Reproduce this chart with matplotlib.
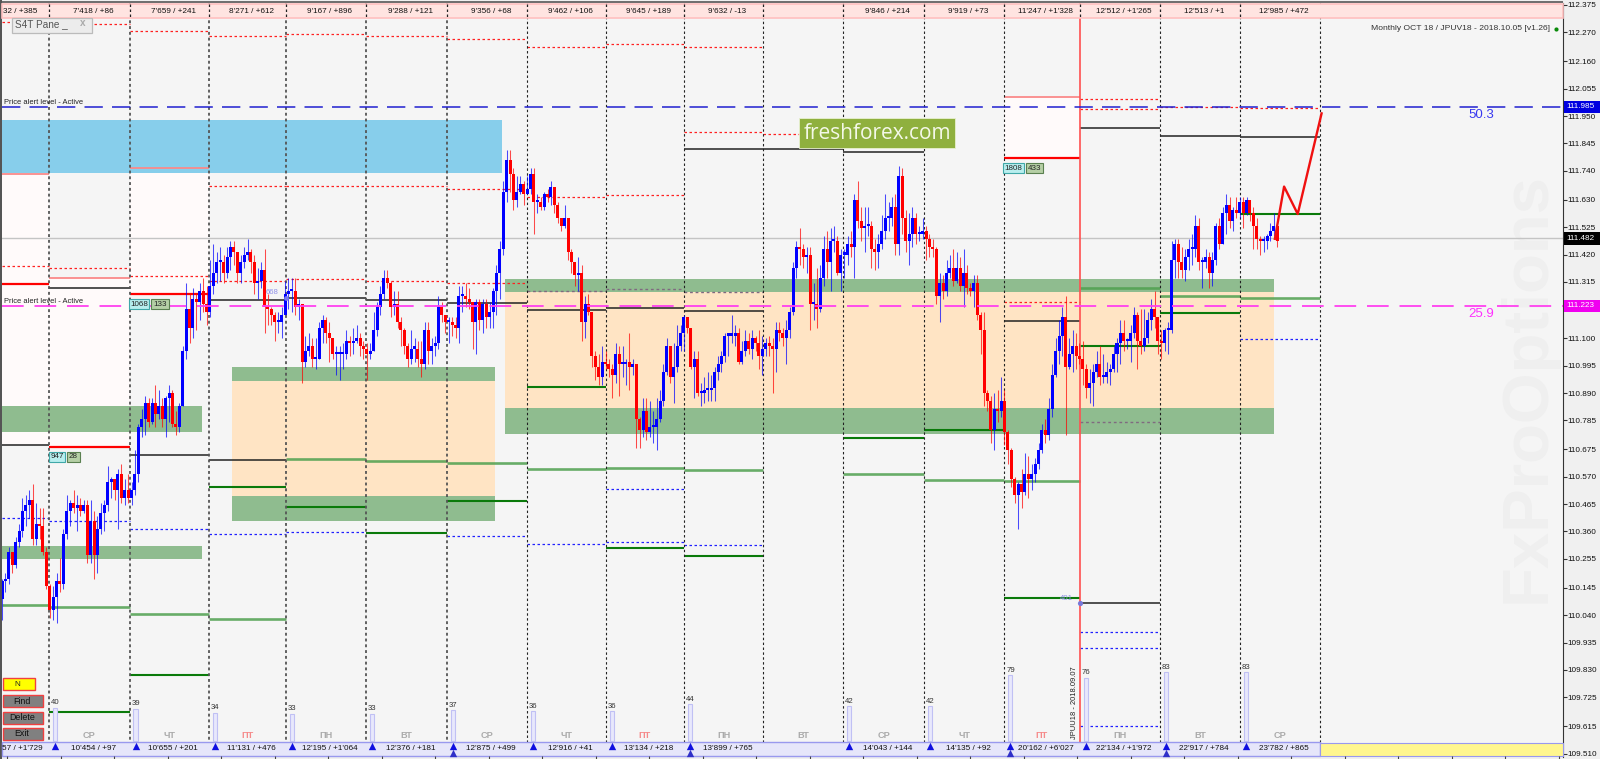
import numpy as np
import matplotlib
matplotlib.use("Agg")
import matplotlib.pyplot as plt
from matplotlib.patches import Rectangle

plt.rcParams['font.family'] = ['Liberation Sans', 'DejaVu Sans']

# --- 1. Hourly candles (open = previous close) ---
close_prices = [
    110.17,110.18,110.28,110.23,110.32,110.36,110.44,110.46,110.48,110.33,110.39,110.38,110.28,110.15,
    110.06,110.11,110.17,110.16,110.35,110.44,110.47,110.45,110.46,110.44,110.46,110.27,110.40,110.27,110.37,110.43,110.46,110.55,110.56,110.52,110.58,110.49,110.52,
    110.49,110.52,110.58,110.76,110.79,110.85,110.78,110.85,110.81,110.84,110.79,110.87,110.89,110.77,110.76,110.84,111.05,111.21,111.14,111.25,111.24,111.28,111.23,111.20,
    111.30,111.35,111.39,111.39,111.35,111.41,111.45,111.43,111.35,111.39,111.42,111.43,111.39,111.31,111.32,111.36,111.22,111.21,111.19,111.16,111.16,111.19,
    111.27,111.28,111.28,111.22,111.23,111.01,111.05,111.07,111.02,111.02,111.14,111.17,111.12,111.10,111.04,111.04,111.04,111.04,111.09,111.08,111.09,111.10,111.07,
    111.06,111.04,111.05,111.13,111.22,111.27,111.33,111.31,111.22,111.23,111.16,111.13,111.07,111.02,111.06,111.06,111.02,111.00,111.13,111.05,111.07,111.08,111.22,111.19,
    111.16,111.16,111.15,111.14,111.26,111.26,111.25,111.24,111.16,111.24,111.17,111.23,111.18,111.20,111.28,111.35,111.44,111.66,111.78,111.73,111.63,111.66,111.69,
    111.65,111.67,111.73,111.62,111.62,111.60,111.65,111.64,111.68,111.61,111.56,111.53,111.56,111.43,111.39,111.34,111.35,111.16,111.23,111.20,111.03,110.99,110.95,
    111.01,111.00,110.98,110.96,111.04,111.00,111.00,111.01,110.99,111.00,110.79,110.75,110.82,110.74,110.76,110.76,110.79,110.86,110.97,111.07,110.95,110.99,111.07,
    111.12,111.18,111.14,110.99,111.02,110.89,110.89,110.90,110.90,110.91,110.97,111.00,111.03,111.11,111.11,111.11,111.12,111.01,111.05,111.09,111.06,111.10,
    111.08,111.03,111.06,111.08,111.07,111.06,111.13,111.12,111.10,111.13,111.20,111.37,111.45,111.44,111.41,111.42,111.23,111.23,111.21,111.33,111.44,111.39,111.47,111.47,
    111.35,111.42,111.42,111.46,111.45,111.63,111.55,111.52,111.53,111.53,111.44,111.43,111.46,111.51,111.56,111.56,111.60,111.46,111.72,111.56,111.47,111.50,111.56,
    111.50,111.50,111.51,111.48,111.45,111.44,111.26,111.31,111.28,111.35,111.37,111.32,111.37,111.30,111.35,111.29,111.28,111.31,111.19,111.13,110.89,110.86,110.75,110.83,110.82,110.86,110.74,110.67,
    110.56,110.50,110.54,110.51,110.58,110.56,110.58,110.62,110.67,110.75,110.73,110.83,110.96,111.05,111.11,111.18,110.99,111.04,111.07,111.03,111.02,
    110.98,110.91,110.93,110.97,111.00,110.95,110.95,110.97,110.98,111.04,111.08,111.12,111.09,111.09,111.12,111.19,111.09,111.07,111.10,111.17,111.21,111.18,111.09,
    111.08,111.13,111.13,111.40,111.46,111.39,111.36,111.41,111.44,111.44,111.53,111.39,111.39,111.41,111.35,111.40,111.53,111.46,111.58,111.61,111.55,111.59,111.58,111.62,
    111.58,111.63,111.58,111.53,111.48,111.47,111.47,111.49,111.51,111.53,111.47,
]
high_prices = [
    110.18,110.20,110.30,110.28,110.34,110.39,110.49,110.50,110.52,110.54,110.47,110.45,110.45,110.30,
    110.16,110.15,110.20,110.26,110.37,110.50,110.48,110.52,110.50,110.49,110.48,110.48,110.48,110.44,110.42,110.47,110.48,110.61,110.57,110.56,110.60,110.62,110.56,
    110.58,110.55,110.67,110.77,110.83,110.88,110.87,110.87,110.92,110.90,110.87,110.88,110.92,110.90,110.82,110.85,111.07,111.31,111.27,111.29,111.27,111.31,111.33,111.30,
    111.40,111.46,111.43,111.45,111.42,111.45,111.47,111.47,111.43,111.42,111.45,111.48,111.44,111.42,111.37,111.39,111.44,111.27,111.22,111.20,111.20,111.22,
    111.32,111.33,111.33,111.33,111.25,111.22,111.11,111.12,111.10,111.10,111.16,111.19,111.18,111.16,111.10,111.07,111.07,111.08,111.13,111.11,111.14,111.15,111.12,
    111.09,111.08,111.08,111.20,111.24,111.30,111.36,111.36,111.32,111.28,111.28,111.18,111.14,111.08,111.13,111.10,111.09,111.09,111.16,111.16,111.10,111.11,111.26,111.24,
    111.19,111.18,111.18,111.18,111.30,111.30,111.31,111.29,111.24,111.25,111.25,111.25,111.25,111.24,111.29,111.38,111.47,111.70,111.82,111.82,111.75,111.72,111.72,
    111.70,111.72,111.75,111.75,111.65,111.64,111.66,111.67,111.70,111.68,111.62,111.56,111.61,111.56,111.44,111.39,111.41,111.38,111.26,111.27,111.20,111.05,111.04,
    111.07,111.05,111.02,111.00,111.08,111.07,111.07,111.02,111.12,111.02,111.00,110.80,110.87,110.87,110.86,110.82,110.87,110.90,111.00,111.10,111.07,111.08,111.15,
    111.15,111.19,111.18,111.14,111.05,111.05,110.93,110.95,110.97,110.96,110.99,111.03,111.05,111.12,111.12,111.19,111.15,111.14,111.09,111.13,111.12,111.13,
    111.11,111.13,111.11,111.10,111.11,111.10,111.16,111.16,111.14,111.17,111.22,111.39,111.47,111.52,111.46,111.45,111.45,111.31,111.37,111.38,111.49,111.51,111.52,111.53,
    111.49,111.44,111.44,111.49,111.51,111.65,111.70,111.60,111.60,111.60,111.55,111.48,111.50,111.57,111.65,111.62,111.64,111.65,111.76,111.75,111.59,111.58,111.60,
    111.58,111.53,111.56,111.53,111.50,111.48,111.45,111.35,111.34,111.40,111.42,111.44,111.43,111.41,111.44,111.38,111.31,111.34,111.34,111.20,111.20,110.90,110.88,110.89,110.90,110.95,110.90,110.75,
    110.68,110.57,110.55,110.60,110.66,110.65,110.62,110.64,110.70,110.77,110.79,110.87,111.00,111.10,111.17,111.22,111.26,111.10,111.13,111.12,111.08,
    111.09,111.00,110.98,111.00,111.05,111.07,111.04,111.01,111.00,111.07,111.10,111.17,111.17,111.10,111.15,111.22,111.20,111.21,111.21,111.20,111.25,111.28,111.18,
    111.13,111.14,111.16,111.47,111.48,111.48,111.45,111.44,111.48,111.50,111.57,111.56,111.41,111.44,111.43,111.43,111.54,111.56,111.60,111.65,111.64,111.60,111.64,111.64,
    111.64,111.64,111.63,111.60,111.56,111.49,111.49,111.50,111.54,111.58,111.53,
]
low_prices = [
    110.02,110.13,110.16,110.20,110.22,110.30,110.34,110.38,110.41,110.31,110.31,110.33,110.27,110.14,
    110.03,110.02,110.01,110.13,110.14,110.33,110.38,110.43,110.36,110.42,110.43,110.24,110.24,110.18,110.20,110.35,110.36,110.44,110.49,110.48,110.37,110.47,110.46,
    110.47,110.46,110.50,110.55,110.72,110.73,110.76,110.77,110.76,110.79,110.76,110.72,110.78,110.76,110.73,110.74,110.84,111.02,111.08,111.10,111.13,111.17,111.20,111.15,
    111.18,111.27,111.31,111.32,111.31,111.33,111.36,111.38,111.31,111.31,111.37,111.40,111.35,111.27,111.25,111.29,111.12,111.15,111.15,111.09,111.12,111.10,
    111.24,111.21,111.20,111.19,111.17,110.93,110.99,111.03,110.99,110.98,111.02,111.08,111.08,111.01,111.02,110.96,110.94,110.98,111.02,111.03,111.04,111.08,111.03,
    111.02,110.94,111.02,111.05,111.11,111.19,111.25,111.29,111.18,111.19,111.14,111.07,111.04,110.99,111.00,111.01,110.99,110.95,110.98,111.00,111.00,111.03,111.06,111.16,
    111.12,111.08,111.11,111.10,111.08,111.20,111.22,111.21,111.06,111.04,111.13,111.12,111.14,111.14,111.14,111.19,111.25,111.42,111.62,111.66,111.59,111.60,111.65,
    111.61,111.65,111.65,111.50,111.58,111.59,111.59,111.62,111.61,111.58,111.54,111.51,111.52,111.40,111.35,111.30,111.28,111.09,111.10,111.19,110.99,110.94,110.92,
    110.92,110.98,110.95,110.87,110.93,110.88,110.95,110.92,110.90,110.96,110.68,110.68,110.72,110.71,110.72,110.70,110.67,110.78,110.84,110.96,110.93,110.85,110.97,
    111.05,111.05,111.12,110.98,110.87,110.88,110.84,110.85,110.86,110.86,110.86,110.94,110.97,111.01,111.03,111.08,111.07,111.00,111.00,111.03,111.04,111.02,
    111.05,110.98,110.96,111.03,111.03,110.89,110.97,111.09,111.07,111.00,111.10,111.19,111.33,111.38,111.37,111.35,111.13,111.17,111.14,111.20,111.30,111.33,111.28,111.43,
    111.34,111.28,111.33,111.38,111.41,111.33,111.52,111.47,111.43,111.49,111.37,111.36,111.37,111.44,111.48,111.51,111.53,111.42,111.42,111.50,111.43,111.38,111.45,
    111.46,111.47,111.48,111.40,111.41,111.41,111.23,111.16,111.25,111.26,111.33,111.30,111.31,111.28,111.22,111.27,111.26,111.22,111.17,111.04,110.84,110.82,110.70,110.67,110.78,110.80,110.69,110.62,
    110.53,110.47,110.37,110.45,110.50,110.49,110.52,110.55,110.60,110.66,110.70,110.71,110.80,110.95,111.00,111.03,110.73,110.98,110.97,110.98,111.00,
    110.92,110.87,110.85,110.84,110.95,110.92,110.93,110.93,110.92,110.97,110.97,111.00,111.05,111.06,111.01,111.10,110.98,111.04,111.05,111.08,111.13,111.14,111.04,
    111.02,111.05,111.04,111.12,111.33,111.33,111.33,111.32,111.36,111.38,111.41,111.36,111.29,111.37,111.29,111.30,111.38,111.44,111.46,111.50,111.52,111.51,111.56,111.56,
    111.52,111.57,111.55,111.44,111.44,111.42,111.43,111.44,111.47,111.49,111.45,
]
first_open = 110.10

# bar number where each session starts (session 0 is cut off on the left)
session_edges = [0, 13.8, 37.4, 60.7, 83.3, 106.7, 130.5, 154, 177.1, 200, 223.2, 246.7, 270.4, 293.9, 316.1, 339.6, 363, 386.5]

top_labels = ["", "7'418 / +86", "7'659 / +241", "8'271 / +612", "9'167 / +896", "9'288 / +121", "9'356 / +68",
              "9'462 / +106", "9'645 / +189", "9'632 / -13", "", "9'846 / +214", "9'919 / +73", "11'247 / +1'328",
              "12'512 / +1'265", "12'513 / +1", "12'985 / +472"]
bottom_labels = ["", "10'454 / +97", "10'655 / +201", "11'131 / +476", "12'195 / +1'064", "12'376 / +181", "12'875 / +499",
                 "12'916 / +41", "13'134 / +218", "13'899 / +765", "", "14'043 / +144", "14'135 / +92", "20'162 / +6'027",
                 "22'134 / +1'972", "22'917 / +784", "23'782 / +865"]
day_names = ["", "СР", "ЧТ", "ПТ", "ПН", "ВТ", "СР", "ЧТ", "ПТ", "ПН", "ВТ", "СР", "ЧТ", "ПТ", "ПН", "ВТ", "СР"]
volume_counts = [0, 40, 39, 34, 33, 33, 37, 36, 36, 44, 0, 42, 42, 79, 76, 83, 83]
double_arrow_sessions = [6, 9, 13, 15]

# daily levels: session number, price
red_dot_sessions = [0, 1, 2, 3, 4, 5, 6, 7, 8, 9, 14, 14, 15, 16,
                    3, 4, 5, 6, 7, 8, 9, 10, 0, 1, 2, 3, 4, 5, 6, 13]
red_dot_prices = [112.310, 112.302, 112.275, 112.256, 112.264, 112.256, 112.245, 112.214, 112.226, 112.214, 112.015, 111.978, 111.986, 111.981,
                  111.682, 111.683, 111.682, 111.671, 111.641, 111.648, 111.889, 111.881, 111.377, 111.368, 111.339, 111.320, 111.326, 111.320, 111.311, 111.239]
pale_red_sessions = [0, 1, 2, 13]
pale_red_prices = [111.728, 111.331, 111.751, 112.024]
red_sessions = [0, 2, 1, 13]
red_prices = [111.307, 111.269, 110.683, 111.789]
black_sessions = [0, 1, 2, 3, 3, 4, 5, 6, 7, 8, 9, 9, 10, 11, 13, 14, 15, 16, 14]
black_prices = [110.691, 111.293, 110.653, 110.634, 111.246, 111.254, 111.246, 111.236, 111.208, 111.215, 111.204,
                111.824, 111.824, 111.812, 111.166, 111.904, 111.875, 111.870, 110.086]
green_sessions = [1, 2, 3, 4, 5, 6, 7, 8, 9, 11, 12, 13, 14, 15, 16]
green_prices = [109.670, 109.811, 110.531, 110.455, 110.354, 110.478, 110.914, 110.297, 110.266, 110.718, 110.748, 110.105, 111.071, 111.197, 111.574]
pale_green_sessions = [0, 1, 2, 3, 4, 5, 6, 7, 8, 9, 11, 12, 13, 14, 15, 16]
pale_green_prices = [110.079, 110.072, 110.044, 110.025, 110.637, 110.630, 110.623, 110.599, 110.603, 110.595, 110.580, 110.557, 110.553, 111.292, 111.262, 111.254]
blue_dot_sessions = [0, 1, 2, 3, 4, 6, 7, 8, 8, 9, 14, 14, 14, 16]
blue_dot_prices = [110.412, 110.400, 110.371, 110.350, 110.358, 110.343, 110.312, 110.523, 110.320, 110.308, 109.975, 109.914, 109.617, 111.097]
gray_dot_sessions = [7, 8, 9, 14]
gray_dot_prices = [111.280, 111.288, 111.277, 110.779]

# shaded zones: first bar, last bar, upper price, lower price
zone_start = [0, 0, 0, 67.5, 67.5, 67.5, 147.6, 147.6, 147.6]
zone_end = [146.5, 58.6, 58.6, 144.6, 144.6, 144.6, 373, 373, 373]
zone_top = [111.935, 110.841, 110.304, 110.989, 110.937, 110.496, 111.326, 111.275, 110.831]
zone_bottom = [111.733, 110.742, 110.255, 110.937, 110.496, 110.400, 111.275, 110.831, 110.733]
zone_colors = ['#87CEEB', '#8FBC8F', '#8FBC8F', '#8FBC8F', '#FFE4C4', '#8FBC8F', '#8FBC8F', '#FFE4C4', '#8FBC8F']

pink_sessions = [0, 1, 2, 13]
pink_top = [111.728, 111.331, 111.751, 112.024]
pink_bottom = [110.691, 110.683, 111.269, 111.789]

forecast_bars = [373.3, 376, 380, 387]
forecast_prices = [111.48, 111.68, 111.575, 111.96]

alert_high = 111.985
alert_low = 111.223
last_price = 111.482

price_ticks = [112.375, 112.270, 112.160, 112.055, 111.950, 111.845, 111.740, 111.630, 111.525, 111.420,
               111.315, 111.210, 111.100, 110.995, 110.890, 110.785, 110.675, 110.570, 110.465, 110.360,
               110.255, 110.145, 110.040, 109.935, 109.830, 109.725, 109.615, 109.510]

# --- 2. Figure: price axes plus a pixel overlay for the terminal chrome ---
fig = plt.figure(figsize=(16, 7.59), dpi=100, facecolor='#F0F0F0')
ax = fig.add_axes([2 / 1600, 2 / 759, 1561 / 1600, 754 / 759])
ax.set_facecolor('#F5F5F5')
ax.set_xlim(0, 457.8)
ax.set_ylim(109.497, 112.3825)
for side in ['top', 'left', 'bottom']:
    ax.spines[side].set_visible(False)
ax.spines['right'].set_color('#333333')
ax.set_xticks([])
ax.yaxis.tick_right()
ax.set_yticks(price_ticks)
ax.set_yticklabels([f"{t:.3f}" for t in price_ticks], fontsize=5.9, color='#111111')
ax.tick_params(axis='y', length=3, width=0.8, pad=0.3, color='#333333')

ov = fig.add_axes([0, 0, 1, 1])
ov.set_xlim(0, 1600)
ov.set_ylim(759, 0)
ov.axis('off')
ov.patch.set_alpha(0)

ax.text(1528, 388, "FxProOptions", transform=ov.transData, rotation=90, ha='center', va='center',
        fontsize=47, fontweight='bold', color='#EFEFEF', zorder=0.5)


def levels(sessions, prices, **style):
    left = [session_edges[s] for s in sessions]
    right = [session_edges[s + 1] for s in sessions]
    ax.hlines(prices, left, right, zorder=2, **style)


for s, top, bottom in zip(pink_sessions, pink_top, pink_bottom):
    ax.add_patch(Rectangle((session_edges[s], bottom), session_edges[s + 1] - session_edges[s], top - bottom,
                           fc='#FFFAFA', ec='none', zorder=0.7))
for i in range(len(zone_start)):
    ax.add_patch(Rectangle((zone_start[i], zone_bottom[i]), zone_end[i] - zone_start[i], zone_top[i] - zone_bottom[i],
                           fc=zone_colors[i], ec='none', zorder=1))

levels(red_dot_sessions, red_dot_prices, colors='#FF2020', linewidth=0.9, linestyles=(0, (2, 2)))
levels(pale_red_sessions, pale_red_prices, colors='#FA8A8A', linewidth=1.3)
levels(red_sessions, red_prices, colors='#FF0000', linewidth=1.6)
levels(black_sessions, black_prices, colors='#222222', linewidth=1.1)
levels(green_sessions, green_prices, colors='#0A7A0A', linewidth=1.5)
levels(pale_green_sessions, pale_green_prices, colors='#4FA04F', linewidth=1.9, alpha=0.85)
levels(blue_dot_sessions, blue_dot_prices, colors='#2020FF', linewidth=0.9, linestyles=(0, (2, 2)))
levels(gray_dot_sessions, gray_dot_prices, colors='#806A80', linewidth=1.0, linestyles=(0, (2, 2)))

# session separators: heavier gray up to session 7, thin black after, red line at the month break
for s, edge in enumerate(session_edges[1:], start=1):
    if s == 14:
        ax.axvline(edge, color='#FF5050', linewidth=1.2, zorder=2.6)
    elif s <= 6:
        ax.axvline(edge, color='#555555', linewidth=1.3, linestyle=(0, (1.6, 1.6)), zorder=2.5)
    else:
        ax.axvline(edge, color='#222222', linewidth=0.8, linestyle=(0, (2.2, 2.2)), zorder=2.5)

ax.axhline(last_price, color='#C4C4C4', linewidth=1.0, zorder=1.5)

# --- 3. Candles ---
closes = np.array(close_prices)
highs = np.array(high_prices)
lows = np.array(low_prices)
opens = np.concatenate([[first_open], closes[:-1]])
bars = np.arange(len(closes))
colors = np.where(closes >= opens, '#0000FF', '#FF0000')
ax.vlines(bars, lows, highs, colors=colors, linewidth=0.75, alpha=0.7, zorder=3)
body_height = np.maximum(np.abs(closes - opens), 0.008)
ax.bar(bars, body_height, bottom=np.minimum(opens, closes), width=0.88, color=colors, linewidth=0, zorder=3.1)

ax.plot(forecast_bars, forecast_prices, color='#F01010', linewidth=1.7, zorder=3.5)

ax.axhline(alert_high, color='#2020D0', linewidth=1.1, linestyle=(0, (12, 6)), zorder=4)
ax.axhline(alert_low, color='#FF40F0', linewidth=1.3, linestyle=(0, (12, 6)), zorder=4)

# price tags on the axis
yt = ax.get_yaxis_transform()
for price, fc, tc, label in [(alert_high, '#0000E0', 'white', "111.985"),
                             (alert_low, '#F000F0', 'white', "111.223"),
                             (last_price, '#000000', 'white', "111.482")]:
    ax.add_patch(Rectangle((1.0005, price - 0.024), 0.0235, 0.048, fc=fc, ec='none', transform=yt, clip_on=False, zorder=6))
    ax.text(1.0025, price, label, transform=yt, color=tc, fontsize=5.9, va='center', ha='left', clip_on=False, zorder=7)

# --- 4. Overlay: bands, labels, buttons ---
ov.add_patch(Rectangle((2, 0.5), 1561, 2.5, fc='#707070', ec='none'))
ov.add_patch(Rectangle((0, 0), 2, 759, fc='#555555', ec='none'))
ov.add_patch(Rectangle((2, 3.5), 1561, 14.5, fc='#FFE4E1', ec='#FFC0C0', linewidth=1.2))
ov.add_patch(Rectangle((2, 742), 1318, 13.5, fc='#E6E6FA', ec='#9999EE', linewidth=1.0))
ov.add_patch(Rectangle((1320, 742.5), 243, 13, fc='#FFF68F', ec='#9999EE', linewidth=0.8))
ov.vlines(np.arange(7, 1560, 53.5), 756, 759, color='#444444', linewidth=0.8)

px_per_bar = 1561 / 457.8
sep_px = [2 + e * px_per_bar for e in session_edges]

# top and bottom strip labels are redrawn over the separators
for s in range(1, 17):
    mid = (sep_px[s] + sep_px[s + 1]) / 2
    ov.vlines(sep_px[s], 4, 17, color='#222222', linewidth=0.9, linestyle=(0, (2, 2)))
    ov.text(mid + 4, 11.5, top_labels[s], fontsize=5.9, ha='center', va='center', color='#111111')
    ov.text(mid + 4, 749, bottom_labels[s], fontsize=5.9, ha='center', va='center', color='#111111')
    day_color = '#F58A8A' if day_names[s] == 'ПТ' else '#ABABAB'
    ov.text(mid, 736, day_names[s], fontsize=6.6, fontweight='bold', ha='center', va='center', color=day_color)
    if volume_counts[s]:
        h = volume_counts[s] * 0.83
        ov.bar(sep_px[s] + 6, -h, bottom=741, width=4.5, fc='#E8E8FC', ec='#C0C0F4', linewidth=0.8)
        ov.text(sep_px[s] + 2, 741 - h - 1.5, str(volume_counts[s]), fontsize=5.6, ha='left', va='bottom', color='#333333')
        ov.scatter(sep_px[s] + 6, 746, marker='^', s=28, color='#1010E0', linewidths=0)
        if s in double_arrow_sessions:
            ov.scatter(sep_px[s] + 6, 752.5, marker='^', s=28, color='#3030C8', linewidths=0)

ov.text(3, 11.5, "32 / +385", fontsize=5.9, ha='left', va='center', color='#111111')
ov.text(2, 749, "57 / +1'729", fontsize=5.9, ha='left', va='center', color='#111111')

ov.text(1550, 29, "Monthly OCT 18 / JPUV18 - 2018.10.05 [v1.26]", fontsize=6.1, ha='right', va='center', color='#333333')
ov.scatter(1556, 28.5, s=9, color='#0A8A0A', linewidths=0)
ov.text(4, 102.5, "Price alert level - Active", fontsize=5.4, ha='left', va='center', color='#222222')
ov.text(4, 301.5, "Price alert level - Active", fontsize=5.4, ha='left', va='center', color='#222222')
ov.text(1481, 114.5, "50.3", fontsize=9.5, ha='center', va='center', color='#3838F0')
ov.text(1481, 314, "25.9", fontsize=9.5, ha='center', va='center', color='#FF30FF')

# freshforex badge
ov.add_patch(Rectangle((799, 118), 156, 30, fc='#8FB03E', ec='#E8F0D0', linewidth=0.6))
ov.text(877, 133.5, "freshforex.com", fontsize=15, family='Open Sans', ha='center', va='center', color='#F4F8E8')

# small panel and buttons
ov.add_patch(Rectangle((11.5, 18), 80.5, 14.5, fc='#ECECEC', ec='#BBBBBB', linewidth=0.9))
ov.text(15, 24.5, "S4T Pane _", fontsize=7.2, ha='left', va='center', color='#555555')
ov.text(83, 23.5, "x", fontsize=7.2, fontweight='bold', ha='center', va='center', color='#AAAAAA')
ov.add_patch(Rectangle((2.5, 678), 32, 12, fc='#FFFF00', ec='#F04040', linewidth=1.0))
ov.text(17, 684, "N", fontsize=5.9, ha='center', va='center', color='#222222')
for label, top in [("Find", 695), ("Delete", 711.5), ("Exit", 728)]:
    ov.add_patch(Rectangle((2.5, top), 40, 12, fc='#808080', ec='#F04040', linewidth=1.0))
    ov.text(22, top + 6, label, fontsize=6.4, ha='center', va='center', color='#111111')

# order tags
for x0, x1, y0, label, fc, ec in [(49, 65, 452, "947", '#B8EEEE', '#40A8A8'), (67, 80, 452, "28", '#B5CFA5', '#5A8050'),
                                  (129, 149, 299, "1068", '#B8EEEE', '#40A8A8'), (151, 169, 299, "133", '#B5CFA5', '#5A8050'),
                                  (1003, 1024, 163, "1808", '#B8EEEE', '#40A8A8'), (1026, 1043, 163, "433", '#B5CFA5', '#5A8050')]:
    ov.add_patch(Rectangle((x0, y0), x1 - x0, 10, fc=fc, ec=ec, linewidth=0.8))
    ov.text((x0 + x1) / 2, y0 + 5, label, fontsize=5.8, ha='center', va='center', color='#222222')

ov.text(272, 293, "668", fontsize=5.6, ha='center', va='center', color='#9090E8')
ov.scatter(285.5, 298, s=12, color='#7878F0', linewidths=0)
ov.text(1066, 599, "401", fontsize=5.6, ha='center', va='center', color='#9090E8')
ov.scatter(1080, 603, s=14, color='#7878D8', linewidths=0)
ov.text(1075, 703, "JPUU18 - 2018.09.07", fontsize=5.4, rotation=90, ha='center', va='center', color='#222222')

fig.savefig("out.png", dpi=100, facecolor=fig.get_facecolor())
